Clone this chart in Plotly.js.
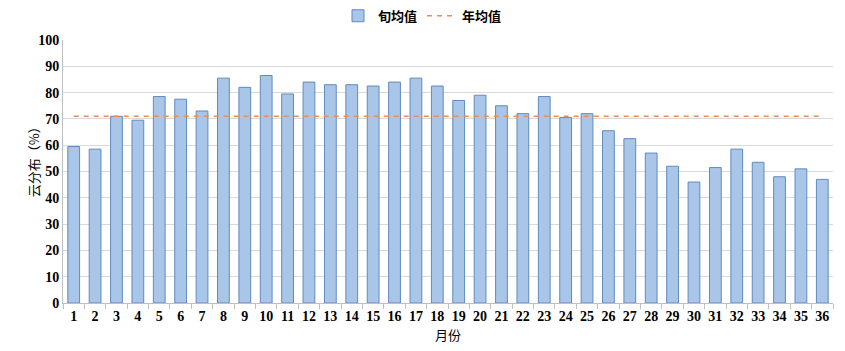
<!DOCTYPE html>
<html>
<head>
<meta charset="utf-8">
<script src="https://cdn.plot.ly/plotly-3.0.1.min.js"></script>
<style>html,body{margin:0;padding:0;background:#fff;}#chart{width:845px;height:351px;}</style>
</head>
<body>
<div id="chart"></div>
<script>
const categories = ["1","2","3","4","5","6","7","8","9","10","11","12","13","14","15","16","17","18","19","20","21","22","23","24","25","26","27","28","29","30","31","32","33","34","35","36"];
const dekadValues = [59.5,58.5,71,69.5,78.5,77.5,73,85.5,82,86.5,79.5,84,83,83,82.5,84,85.5,82.5,77,79,75,72,78.5,70.5,72,65.5,62.5,57,52,46,51.5,58.5,53.5,48,51,47];
const yearMean = [71,71,71,71,71,71,71,71,71,71,71,71,71,71,71,71,71,71,71,71,71,71,71,71,71,71,71,71,71,71,71,71,71,71,71,71];
const yTicks = [0,10,20,30,40,50,60,70,80,90,100];

const serif = '"Liberation Serif", "Times New Roman", "Noto Sans CJK SC", serif';
const cjk = '"Noto Sans CJK SC", "Liberation Serif", serif';

const traces = [
  {
    type: 'bar', name: '旬均值', x: categories, y: dekadValues,
    width: 0.55,
    marker: {color: '#a9c6e8', line: {color: '#5f8bbd', width: 1}}
  },
  {
    type: 'scatter', mode: 'lines', name: '年均值', x: categories, y: yearMean,
    line: {color: '#ec8e4f', width: 1.5, dash: '5px,5px'}
  }
];

const layout = {
  width: 845, height: 351,
  margin: {l: 63, r: 12, t: 40, b: 48},
  paper_bgcolor: '#fff', plot_bgcolor: '#fff',
  showlegend: true,
  legend: {orientation: 'h', xref: 'container', yref: 'container', x: 0.5, xanchor: 'center', y: 0.955, yanchor: 'middle',
           font: {family: cjk, size: 13, color: '#000', weight: 'bold'}, traceorder: 'normal', itemwidth: 30},
  bargap: 0.45,
  xaxis: {
    type: 'category', tickson: 'boundaries', ticks: 'outside', ticklen: 5, tickcolor: '#bfbfbf',
    tickangle: 0,
    showline: true, linecolor: '#bfbfbf', linewidth: 1,
    tickfont: {family: serif, size: 14, color: '#000', weight: 'bold'},
    title: {text: '月份', font: {family: cjk, size: 13, color: '#000'}, standoff: 8},
    showgrid: false
  },
  yaxis: {
    range: [0, 100], tickvals: yTicks, ticks: '',
    showline: true, linecolor: '#bfbfbf', linewidth: 1,
    gridcolor: '#d9d9d9', gridwidth: 1, zeroline: false,
    tickfont: {family: serif, size: 14, color: '#000', weight: 'bold'}
  },
  annotations: [{
    text: '云分布（%）', xref: 'paper', yref: 'paper', x: -0.039, y: 0.55,
    xanchor: 'center', yanchor: 'middle', textangle: -90, showarrow: false,
    font: {family: cjk, size: 13, color: '#000'}
  }]
};

Plotly.newPlot('chart', traces, layout, {displayModeBar: false});
</script>
</body>
</html>
